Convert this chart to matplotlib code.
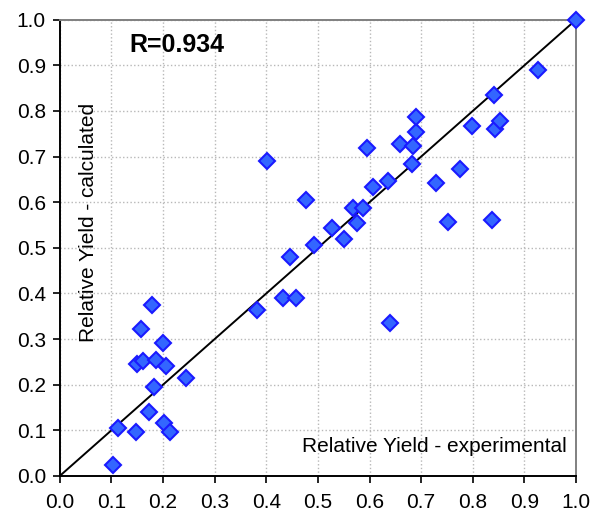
import matplotlib
matplotlib.use("Agg")
import matplotlib.pyplot as plt
import numpy as np

plt.rcParams["font.family"] = ["Liberation Sans", "DejaVu Sans"]

# experimental vs calculated relative yield
yield_exp = [
    0.103, 0.113, 0.147, 0.173, 0.201, 0.213, 0.182, 0.244, 0.149, 0.161,
    0.186, 0.205, 0.200, 0.158, 0.178, 0.382, 0.401, 0.432, 0.446, 0.457,
    0.477, 0.492, 0.527, 0.550, 0.568, 0.576, 0.587, 0.595, 0.607, 0.636,
    0.640, 0.659, 0.682, 0.684, 0.690, 0.690, 0.729, 0.752, 0.776, 0.798,
    0.837, 0.841, 0.843, 0.853, 0.926, 1.000,
]
yield_calc = [
    0.024, 0.105, 0.097, 0.141, 0.116, 0.096, 0.196, 0.214, 0.245, 0.251,
    0.254, 0.241, 0.291, 0.322, 0.375, 0.363, 0.691, 0.390, 0.480, 0.390,
    0.605, 0.507, 0.544, 0.520, 0.588, 0.555, 0.588, 0.719, 0.634, 0.647,
    0.336, 0.727, 0.684, 0.724, 0.754, 0.787, 0.642, 0.557, 0.673, 0.768,
    0.561, 0.835, 0.760, 0.779, 0.889, 1.000,
]
r_value = 0.934
ticks = np.arange(0, 1.01, 0.1)

fig = plt.figure(figsize=(5.92, 5.19), dpi=100)
ax = fig.add_axes([0.101, 0.083, 0.872, 0.879])

ax.plot([0, 1], [0, 1], color="black", lw=1.4, zorder=2)
ax.plot(yield_exp, yield_calc, linestyle="none", marker="D", ms=8.6,
        mfc="#3366ff", mec="#1a1aff", mew=1.5, zorder=3, clip_on=False)

ax.set_xlim(0, 1)
ax.set_ylim(0, 1)
ax.set_xticks(ticks)
ax.set_yticks(ticks)
ax.set_xticklabels([f"{t:.1f}" for t in ticks])
ax.set_yticklabels([f"{t:.1f}" for t in ticks])
ax.tick_params(direction="out", length=5, width=1.2, labelsize=15, color="black")
ax.tick_params(axis="x", pad=7)
ax.tick_params(axis="y", pad=5)
ax.grid(True, linestyle=":", color="#b8b8b8", lw=1)
ax.set_axisbelow(True)

for side in ["left", "bottom"]:
    ax.spines[side].set_color("black")
    ax.spines[side].set_linewidth(1.4)
for side in ["top", "right"]:
    ax.spines[side].set_color("#808080")
    ax.spines[side].set_linewidth(1.4)

ax.text(0.134, 0.945, f"R={r_value}", fontsize=18, fontweight="bold",
        ha="left", va="center")
ax.text(0.055, 0.555, "Relative Yield - calculated", fontsize=15,
        rotation=90, ha="center", va="center")
ax.text(0.983, 0.065, "Relative Yield - experimental", fontsize=15,
        ha="right", va="center")

fig.savefig("out.png", dpi=100)
